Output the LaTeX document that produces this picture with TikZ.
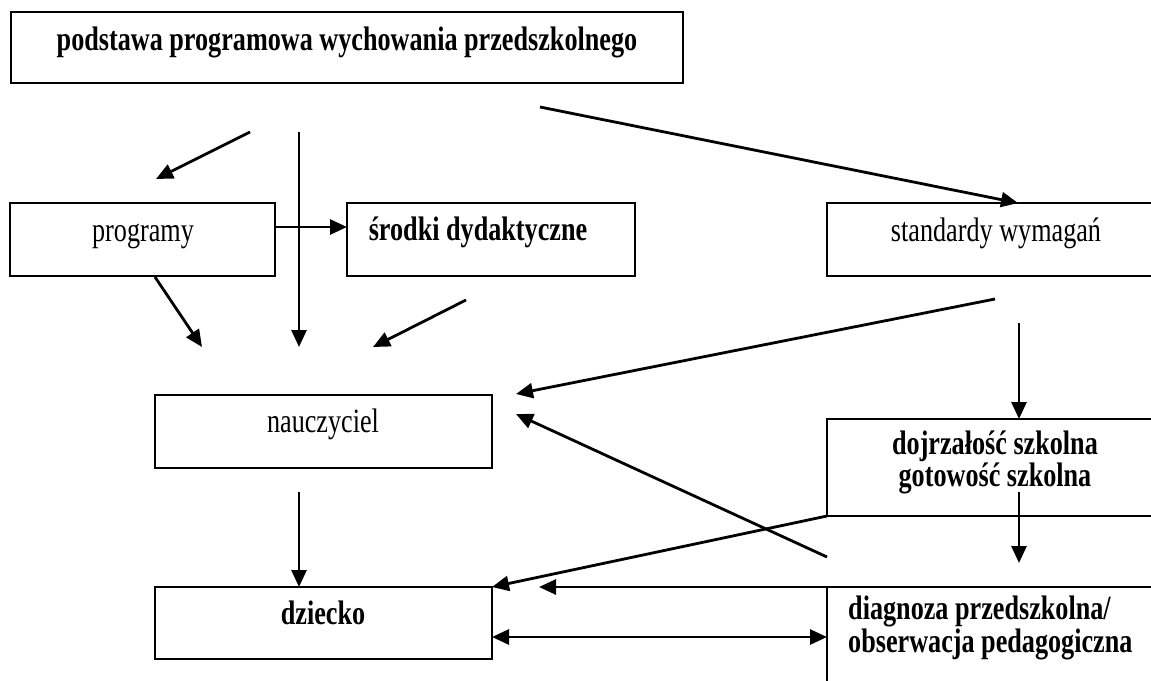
\documentclass[tikz,border=0pt]{standalone}
\usepackage{fontspec}
\setmainfont{Liberation Serif}[FakeStretch=0.77]
\usetikzlibrary{arrows.meta}
\begin{document}
\begin{tikzpicture}[x=1pt,y=-1pt,
  box/.style={draw, line width=2.3pt, inner sep=0pt, outer sep=0pt},
  lbl/.style={anchor=base, inner sep=0pt, font=\fontsize{34}{32}\selectfont},
  blbl/.style={lbl, font=\fontsize{34}{32}\selectfont\bfseries},
  arr/.style={line width=2.8pt, -{Triangle[length=17pt,width=15pt]}},
  darr/.style={line width=2.8pt, {Triangle[length=17pt,width=15pt]}-{Triangle[length=17pt,width=15pt]}},
]
\useasboundingbox (0,0) rectangle (1151,680);
\clip (0,0) rectangle (1151,680);
% boxes
\node[box, minimum width=672pt, minimum height=71pt] (top) at (347,47.5) {};
\node[box, minimum width=265pt, minimum height=73pt] (prog) at (142.5,239.5) {};
\node[box, minimum width=288pt, minimum height=73pt] (srodki) at (491,239.5) {};
\node[box, minimum width=338pt, minimum height=73pt] (stand) at (996,239.5) {};
\node[box, minimum width=337pt, minimum height=73pt] (naucz) at (323.5,431.5) {};
\node[box, minimum width=338pt, minimum height=97pt] (dojrz) at (996,467.5) {};
\node[box, minimum width=337pt, minimum height=72pt] (dziecko) at (323.5,623) {};
\node[box, minimum width=338pt, minimum height=113pt] (diag) at (996,643.5) {};
% texts
\node[blbl] (t-top) at (347,50) {podstawa programowa wychowania przedszkolnego};
\node[lbl] (t-prog) at (143,241) {programy};
\node[blbl] (t-sr) at (478,240) {środki dydaktyczne};
\node[lbl] (t-st) at (996,241) {standardy wymagań};
\node[lbl] (t-na) at (323,432) {nauczyciel};
\node[blbl] (t-dz) at (323,624) {dziecko};
\node[blbl, align=center, font=\fontsize{34}{32}\selectfont\bfseries] (t-dj) at (995,486) {dojrzałość szkolna\\gotowość szkolna};
\node[blbl, anchor=base west, align=left, font=\fontsize{34}{28}\selectfont\bfseries] (t-dg) at (848,652) {diagnoza przedszkolna/\\obserwacja pedagogiczna};
% free connector ends
\coordinate (a1s) at (250,132); \coordinate (a1e) at (156,179);
\coordinate (a2s) at (299,132); \coordinate (a2e) at (299,347);
\coordinate (a3s) at (540,107); \coordinate (a3e) at (1018,0);
\coordinate (a4) at (300,227);
\coordinate (a5s) at (155,277); \coordinate (a5e) at (202,347);
\coordinate (a6s) at (466,300); \coordinate (a6e) at (373,347);
\coordinate (a7s) at (995,299); \coordinate (a7e) at (516,394);
\coordinate (a8s) at (1019,323);
\coordinate (a9s) at (827,557); \coordinate (a9e) at (516,414);
\coordinate (a10s) at (299,492);
\coordinate (a12s) at (875,587); \coordinate (a12e) at (539,587);
\coordinate (a13s) at (1019,492); \coordinate (a13e) at (1019,563);
\coordinate (a14) at (600,637);
% connectors
\draw[arr] (a1s) -- (a1e);
\draw[arr] (a2s) -- (a2e);
\draw[arr] (a3s) -- (stand.north -| a3e);
\draw[arr] (prog.east |- a4) -- (srodki.west |- a4);
\draw[arr] (a5s) -- (a5e);
\draw[arr] (a6s) -- (a6e);
\draw[arr] (a7s) -- (a7e);
\draw[arr] (a8s) -- (a8s |- dojrz.north);
\draw[arr] (a9s) -- (a9e);
\draw[arr] (a10s) -- (a10s |- dziecko.north);
\draw[arr] (dojrz.south west) -- (dziecko.north east);
\draw[arr] (a12s) -- (a12e);
\draw[arr] (a13s) -- (a13e);
\draw[darr] (dziecko.east |- a14) -- (diag.west |- a14);
\end{tikzpicture}
\end{document}
